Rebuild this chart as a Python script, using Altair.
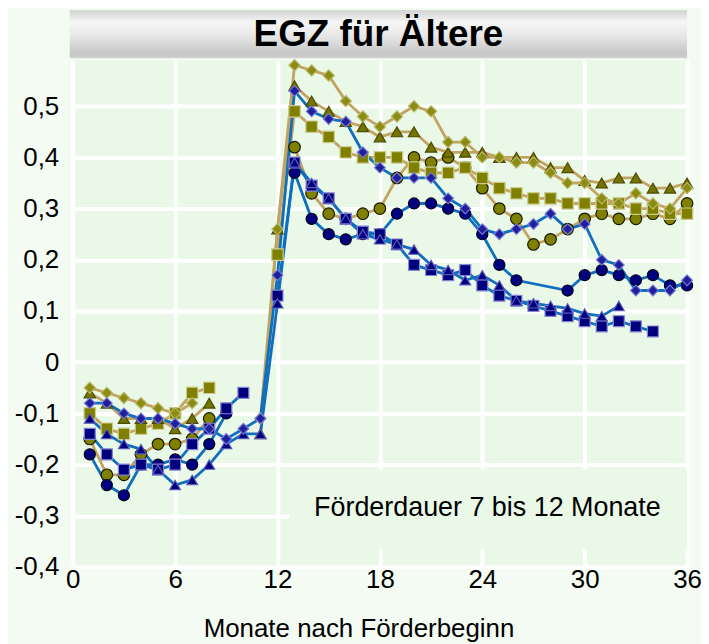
import altair as alt
import pandas as pd

TITLE = "EGZ für Ältere"
NOTE = "Förderdauer 7 bis 12 Monate"
X_TITLE = "Monate nach Förderbeginn"
X_TICKS = [0, 6, 12, 18, 24, 30, 36]
Y_TICKS = [-0.4, -0.3, -0.2, -0.1, 0.0, 0.1, 0.2, 0.3, 0.4, 0.5]

SERIES = ["o_circle", "o_square", "o_triangle", "o_diamond",
          "b_circle", "b_square", "b_triangle", "b_diamond"]
GROUP = {"o_circle": "olive", "o_square": "olive", "o_triangle": "olive", "o_diamond": "olive",
         "b_circle": "blue", "b_square": "blue", "b_triangle": "blue", "b_diamond": "blue"}

# ---- before month 12 (start month 1) ----
o_circle_pre = [-0.15, -0.22, -0.22, -0.18, -0.16, -0.16, -0.15, -0.11]
o_square_pre = [-0.10, -0.13, -0.14, -0.13, -0.12, -0.10, -0.06, -0.05]
o_triangle_pre = [-0.06, -0.08, -0.11, -0.11, -0.11, -0.13, -0.11, -0.08]
o_diamond_pre = [-0.05, -0.06, -0.07, -0.08, -0.09, -0.10, -0.08]
b_circle_pre = [-0.18, -0.24, -0.26, -0.20, -0.20, -0.19, -0.20, -0.16, -0.10]
b_square_pre = [-0.14, -0.18, -0.21, -0.20, -0.21, -0.20, -0.16, -0.13, -0.09, -0.06]
b_triangle_pre = [-0.11, -0.14, -0.16, -0.17, -0.21, -0.24, -0.23, -0.20, -0.16, -0.14, -0.14]
b_diamond_pre = [-0.08, -0.08, -0.10, -0.11, -0.11, -0.12, -0.13, -0.13, -0.15, -0.13, -0.11]

# ---- after (start month given separately) ----
o_circle_post_start = 13
o_circle_post = [0.42, 0.33, 0.29, 0.28, 0.29, 0.30, 0.36, 0.40, 0.39, 0.40, 0.38, 0.34,
                 0.30, 0.28, 0.23, 0.24, 0.26, 0.28, 0.29, 0.28, 0.28, 0.29, 0.28, 0.31]
o_square_post_start = 12
o_square_post = [0.21, 0.49, 0.46, 0.44, 0.41, 0.40, 0.40, 0.40, 0.38, 0.37, 0.37, 0.38, 0.36,
                 0.34, 0.33, 0.32, 0.32, 0.31, 0.31, 0.31, 0.31, 0.30, 0.30, 0.29, 0.29]
o_triangle_post_start = 11
o_triangle_post = [-0.14, 0.26, 0.54, 0.51, 0.49, 0.47, 0.46, 0.44, 0.45, 0.45, 0.42, 0.41, 0.41,
                   0.41, 0.40, 0.40, 0.40, 0.38, 0.38, 0.355, 0.35, 0.36, 0.36, 0.34, 0.34, 0.35]
o_diamond_post_start = 11
o_diamond_post = [-0.11, 0.26, 0.58, 0.57, 0.56, 0.51, 0.48, 0.46, 0.48, 0.50, 0.49, 0.43, 0.43,
                  0.40, 0.40, 0.39, 0.39, 0.37, 0.35, 0.35, 0.32, 0.31, 0.33, 0.31, 0.30, 0.34]
b_circle_post_start = 13
b_circle_post = [0.37, 0.28, 0.25, 0.24, 0.25, 0.25, 0.29, 0.31, 0.31, 0.30, 0.29, 0.25,
                 0.19, 0.16, None, None, 0.14, 0.17, 0.18, 0.17, 0.16, 0.17, 0.15, 0.15]
b_square_post_start = 12
b_square_post = [0.13, 0.39, 0.345, 0.32, 0.28, 0.255, 0.25, 0.23, 0.19, 0.18, 0.17, 0.18,
                 0.15, 0.13, 0.12, 0.11, 0.10, 0.09, 0.08, 0.07, 0.08, 0.07, 0.06]
b_triangle_post_start = 12
b_triangle_post = [0.115, 0.39, 0.35, 0.32, 0.28, 0.25, 0.24, 0.23, 0.22, 0.19, 0.18, 0.16,
                   0.17, 0.15, 0.12, 0.115, 0.11, 0.105, 0.095, 0.09, 0.11]
b_diamond_post_start = 12
b_diamond_post = [0.17, 0.53, 0.49, 0.475, 0.47, 0.41, 0.38, 0.36, 0.36, 0.36, 0.32, 0.30,
                  0.26, 0.25, 0.26, 0.27, 0.29, 0.26, 0.27, 0.20, 0.19, 0.14, 0.14, 0.14, 0.16]

# series whose pre and post parts form one line
JOINED = {"b_triangle", "b_diamond"}

PRE = {"o_circle": o_circle_pre, "o_square": o_square_pre, "o_triangle": o_triangle_pre,
       "o_diamond": o_diamond_pre, "b_circle": b_circle_pre, "b_square": b_square_pre,
       "b_triangle": b_triangle_pre, "b_diamond": b_diamond_pre}
POST = {"o_circle": (o_circle_post_start, o_circle_post),
        "o_square": (o_square_post_start, o_square_post),
        "o_triangle": (o_triangle_post_start, o_triangle_post),
        "o_diamond": (o_diamond_post_start, o_diamond_post),
        "b_circle": (b_circle_post_start, b_circle_post),
        "b_square": (b_square_post_start, b_square_post),
        "b_triangle": (b_triangle_post_start, b_triangle_post),
        "b_diamond": (b_diamond_post_start, b_diamond_post)}

rows = []
for order, name in enumerate(SERIES):
    for i, v in enumerate(PRE[name]):
        seg = name if name in JOINED else name + "_pre"
        rows.append(dict(month=1 + i, value=v, series=name, seg=seg,
                         group=GROUP[name], k=order))
    start, vals = POST[name]
    for i, v in enumerate(vals):
        if v is None:
            continue
        seg = name if name in JOINED else name + "_post"
        rows.append(dict(month=start + i, value=v, series=name, seg=seg,
                         group=GROUP[name], k=order))
df = pd.DataFrame(rows)

FONT = "Liberation Sans"

ylabel = ("datum.value == 0 ? '0' : (datum.value < 0 ? '-' : '') + "
          "replace(format(abs(datum.value), '.1f'), '.', ',')")

x_enc = alt.X("month:Q", scale=alt.Scale(domain=[0, 36], nice=False),
              axis=alt.Axis(values=X_TICKS, title=X_TITLE, titleFontSize=26,
                            titleFontWeight="normal", titleFont=FONT, titleColor="black",
                            titlePadding=23, titleX=287, titleAnchor="middle",
                            labelFont=FONT, labelFontSize=26,
                            labelColor="black", labelPadding=0, domain=False, ticks=False,
                            grid=True, gridColor="white", gridWidth=4, gridOpacity=1,
                            labelFlush=False))
y_enc = alt.Y("value:Q", scale=alt.Scale(domain=[-0.4, 0.59], nice=False, zero=False),
              axis=alt.Axis(values=Y_TICKS, labelExpr=ylabel, title=None, labelFont=FONT,
                            labelFontSize=26, labelColor="black", labelPadding=14,
                            domain=False, ticks=False, grid=True, gridColor="white",
                            gridWidth=4, gridOpacity=1, labelFlush=False))

base = alt.Chart(df).encode(x=x_enc, y=y_enc)

lines_olive = base.transform_filter("datum.group == 'olive'").mark_line(
    color="#c2a362", strokeWidth=2.8).encode(detail="seg:N", order="month:Q")
lines_blue = base.transform_filter("datum.group == 'blue'").mark_line(
    color="#0f6fbd", strokeWidth=2.8).encode(detail="seg:N", order="month:Q")

points = base.mark_point(filled=True, strokeWidth=1.2, opacity=1).encode(
    shape=alt.Shape("series:N", legend=None, scale=alt.Scale(
        domain=SERIES,
        range=["circle", "square", "triangle-up", "diamond",
               "circle", "square", "triangle-up", "diamond"])),
    fill=alt.Fill("series:N", legend=None, scale=alt.Scale(
        domain=SERIES,
        range=["#808000", "#808000", "#747400", "#8c8c14",
               "#000080", "#00007c", "#000080", "#20209c"])),
    stroke=alt.Stroke("series:N", legend=None, scale=alt.Scale(
        domain=SERIES,
        range=["#1a1a00", "#cccc90", "#4a4a00", "#b8b868",
               "#00001a", "#8484d4", "#5a5ab8", "#7878d8"])),
    size=alt.Size("series:N", legend=None, scale=alt.Scale(
        domain=SERIES, range=[135, 115, 150, 160, 135, 115, 150, 150])),
    order=alt.Order("k:Q"),
)

note_df = pd.DataFrame({"x": [12.7], "x2": [36.0], "y": [-0.21], "y2": [-0.365],
                        "tx": [24.3], "ty": [-0.285], "t": [NOTE]})
note_box = alt.Chart(note_df).mark_rect(color="#eaf8e8").encode(
    x=alt.X("x:Q"), x2="x2:Q", y=alt.Y("y:Q"), y2="y2:Q")
note_text = alt.Chart(note_df).mark_text(font=FONT, fontSize=27, color="black",
                                         align="center", baseline="middle").encode(
    x="tx:Q", y="ty:Q", text="t:N")

title_df = pd.DataFrame({"t": [TITLE]})
title_bar = alt.Chart(title_df).mark_rect(
    fill=alt.Gradient(gradient="linear", x1=0, y1=0, x2=0, y2=1, stops=[
        alt.GradientStop(color="#d2d2d2", offset=0),
        alt.GradientStop(color="#f6f6f6", offset=0.25),
        alt.GradientStop(color="#e6e6e6", offset=0.55),
        alt.GradientStop(color="#c6c6c6", offset=0.9),
        alt.GradientStop(color="#d0d0d0", offset=1)])
).encode(x=alt.value(-3), x2=alt.value(617), y=alt.value(-50), y2=alt.value(-2))
title_text = alt.Chart(title_df).mark_text(font=FONT, fontSize=37, fontWeight="bold",
                                           color="black", align="center",
                                           baseline="middle").encode(
    x=alt.value(307), y=alt.value(-25), text="t:N")

chart = alt.layer(note_box, lines_olive, lines_blue, points, note_text, title_bar, title_text
                  ).properties(
    width=617, height=509,
    autosize=alt.AutoSizeParams(type="none"),
    padding={"left": 65, "top": 51, "right": 14, "bottom": 76},
    background="#f3fbf3",
).configure_view(fill="#eaf8e8", strokeWidth=0)

chart.save("out.html", embed_options={"renderer": "svg", "actions": False})
